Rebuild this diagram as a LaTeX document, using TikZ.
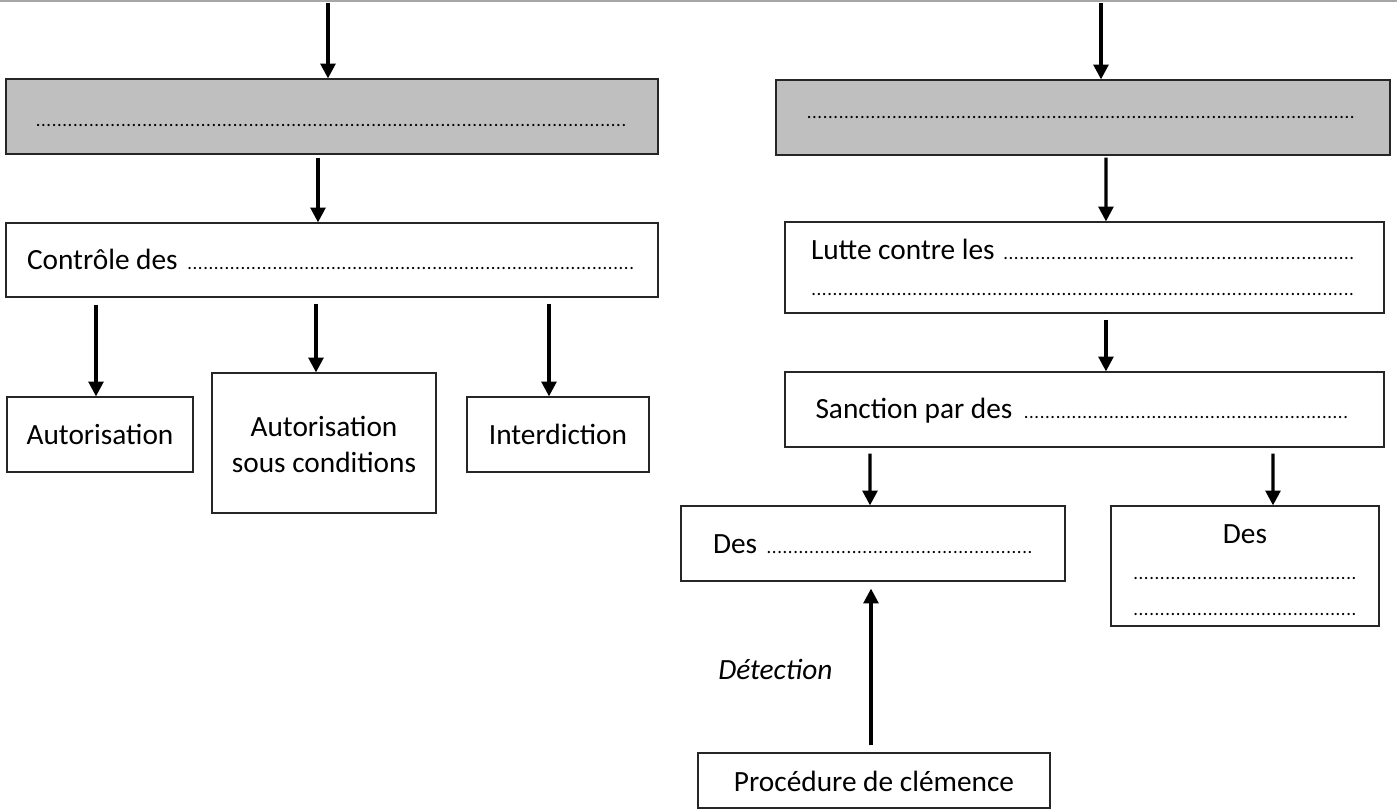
\documentclass[tikz,border=0pt]{standalone}
\usepackage{fontspec}
\setmainfont{Carlito}
\usetikzlibrary{arrows.meta}
\setlength\parindent{0pt}
% dotted blank that runs to the end of the line
\newcommand\blank{\leavevmode\leaders\hbox to 4pt{\hss\fontsize{14}{14}\selectfont.\hss}\hskip 0pt plus 1filll\kern0pt}
\newcommand\plainspaces{\spaceskip0pt\relax\xspaceskip0pt\relax}
\begin{document}
\begin{tikzpicture}[x=0.75pt, y=-0.75pt,
  box/.style={draw=black!85, line width=0.9pt, inner sep=0pt, text depth=0pt, font=\fontsize{22}{27}\selectfont,
    execute at begin node=\plainspaces},
  one/.style={box, text height=15pt},
  shaded/.style={box, fill=black!25},
  arr/.style={-{Triangle[length=11pt,width=11pt]}, line width=2.4pt}]
\useasboundingbox (0,0) rectangle (1397,809);
\draw[black!35, line width=1.5pt] (0,1) -- (1397,1);
\coordinate (inL) at (328,3);
\coordinate (inR) at (1101,3);
% left column
\node[shaded, minimum width=489pt, minimum height=56.25pt, text width=444.75pt, inner xsep=22.1pt, text height=15pt] (gL) at (332,116.5) {\blank};
\node[one, minimum width=489pt, minimum height=55.5pt, text width=457.5pt, inner xsep=15.75pt] (ctrl) at (332,260) {Contrôle des \blank};
\node[one, minimum width=139.5pt, minimum height=56.25pt] (aut) at (100,434.5) {Autorisation};
\node[box, minimum width=168pt, minimum height=105pt, text height=43.5pt, align=center] (asc) at (324,443) {Autorisation\\sous conditions};
\node[one, minimum width=136.5pt, minimum height=56.25pt] (int) at (558,434.5) {Interdiction};
% right column
\node[shaded, minimum width=460.5pt, minimum height=56.25pt, text width=414.75pt, inner xsep=22.875pt, text height=1.5pt] (gR) at (1083,117.5) {\blank};
\node[box, minimum width=449.25pt, minimum height=68.25pt, text width=410.25pt, inner xsep=19.5pt, text height=15.75pt, text depth=27pt] (lutte) at (1084.5,267.5) {Lutte contre les \blank\\\blank};
\node[one, minimum width=449.25pt, minimum height=56.25pt, text width=403.5pt, inner xsep=22.875pt, text height=14.25pt] (sanc) at (1084.5,409.5) {Sanction par des \blank};
\node[one, minimum width=288pt, minimum height=56.25pt, text width=240pt, inner xsep=24pt, text height=14.25pt] (desL) at (873,543.5) {Des \blank};
\node[box, minimum width=201pt, minimum height=90pt, text width=168pt, inner xsep=16.5pt, text height=19.5pt, text depth=54pt, align=center] (desR) at (1245,566) {Des\\\blank\\\blank};
\node[one, minimum width=264pt, minimum height=41.25pt, text height=17pt] (proc) at (874,780.5) {Procédure de clémence};
\path[arr]
(inL) edge (inL |- gL.north)
(inR) edge (inR |- gR.north)
([xshift=-10.5pt,yshift=-2.25pt]gL.south) edge ([xshift=-10.5pt]ctrl.north)
([xshift=-177pt,yshift=-5.25pt]ctrl.south) edge ([xshift=-3pt]aut.north)
([xshift=-12pt,yshift=-4.5pt]ctrl.south) edge ([xshift=-6pt]asc.north)
([xshift=162.75pt,yshift=-4.5pt]ctrl.south) edge ([xshift=-6.75pt]int.north)
([xshift=17.25pt,yshift=-1.5pt]gR.south) edge ([xshift=16.1pt]lutte.north)
([xshift=16.1pt,yshift=-4.5pt]lutte.south) edge ([xshift=16.1pt]sanc.north)
([xshift=-160.9pt,yshift=-4.5pt]sanc.south) edge ([xshift=-2.25pt]desL.north)
([xshift=141.4pt,yshift=-4.5pt]sanc.south) edge ([xshift=21pt]desR.north)
([xshift=-2.25pt,yshift=5.25pt]proc.north) edge node[left=27.75pt, inner sep=0pt, text height=18pt, text depth=0pt, font=\itshape\fontsize{22}{27}\selectfont]{Détection} ([xshift=-1.5pt,yshift=-5.25pt]desL.south);
\end{tikzpicture}
\end{document}
